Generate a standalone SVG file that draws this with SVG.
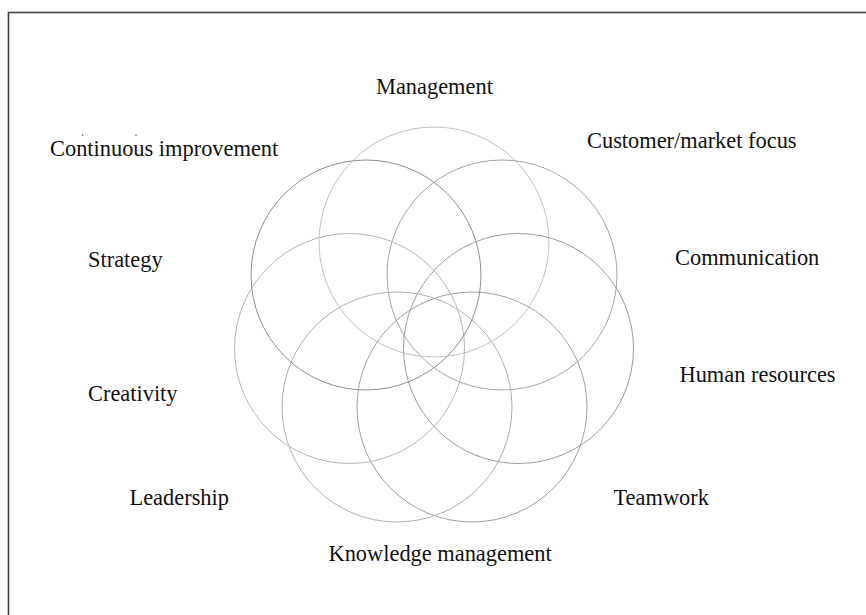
<svg xmlns="http://www.w3.org/2000/svg" width="866" height="615" viewBox="0 0 866 615">
  <style>
    .ring { fill: none; stroke-width: 1; }
    .label { font-family: "Liberation Serif", "Times New Roman", serif; font-size: 22.4px; fill: #111; }
  </style>
  <rect width="866" height="615" fill="#ffffff"/>
  <!-- outer frame (runs off the right and bottom edges) -->
  <rect x="8.5" y="12.5" width="880" height="620" fill="none" stroke="#444" stroke-width="1.6"/>

  <!-- seven overlapping rings on a heptagon of radius 87 around (434,329) -->
  <g id="rings">
    <g id="ring-management"><circle class="ring" cx="434" cy="242" r="115" stroke="#c4c4c4"/></g>
    <g id="ring-customer"><circle class="ring" cx="502" cy="275" r="115" stroke="#a6a6a6"/></g>
    <g id="ring-communication"><circle class="ring" cx="518.5" cy="348.5" r="115" stroke="#9c9c9c"/></g>
    <g id="ring-human-resources"><circle class="ring" cx="472" cy="407" r="115" stroke="#a2a2a2"/></g>
    <g id="ring-knowledge"><circle class="ring" cx="397" cy="407" r="115" stroke="#b0b0b0"/></g>
    <g id="ring-creativity"><circle class="ring" cx="349.5" cy="348.5" r="115" stroke="#b6b6b6"/></g>
    <g id="ring-strategy"><circle class="ring" cx="366" cy="275" r="115" stroke="#909090"/></g>
  </g>

  <g id="connectors"></g>

  <!-- labels -->
  <g id="label-management"><text class="label" x="376" y="93.5">Management</text></g>
  <g id="label-customer"><text class="label" x="587" y="147.5">Customer/market focus</text></g>
  <g id="label-continuous"><text class="label" x="50" y="156">Continuous improvement</text>
    <circle cx="82.7" cy="135" r="0.8" fill="#444"/>
    <circle cx="136" cy="135" r="0.8" fill="#444"/>
  </g>
  <g id="label-strategy"><text class="label" x="88" y="267">Strategy</text></g>
  <g id="label-communication"><text class="label" x="675" y="264.5">Communication</text></g>
  <g id="label-human-resources"><text class="label" x="679.5" y="382">Human resources</text></g>
  <g id="label-creativity"><text class="label" x="88" y="401">Creativity</text></g>
  <g id="label-leadership"><text class="label" x="129.5" y="504.5">Leadership</text></g>
  <g id="label-teamwork"><text class="label" x="613.5" y="504.5">Teamwork</text></g>
  <g id="label-knowledge"><text class="label" x="328.5" y="561">Knowledge management</text></g>
</svg>
